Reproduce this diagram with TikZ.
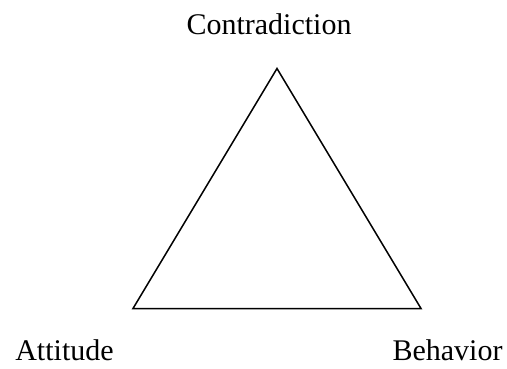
\documentclass[tikz,border=0pt]{standalone}
\usepackage{fontspec}
\setmainfont{Liberation Serif}
\begin{document}
\begin{tikzpicture}[x=1pt,y=-1pt,
  lbl/.style={anchor=base,inner sep=0pt,font=\fontsize{30}{34}\selectfont},
  edge/.style={draw=black,line width=1.5pt,line join=miter}]
\useasboundingbox (0,0) rectangle (507,369);
\coordinate (top) at (277,68.5);
\coordinate (bl) at (133,308.5);
\coordinate (br) at (421,308.5);
\draw[edge] (top) -- (bl) -- (br) -- cycle;
\node[lbl] (c) at (269,35) {Contradiction};
\node[lbl] (a) at (64.5,360) {Attitude};
\node[lbl] (b) at (447.5,360) {Behavior};
\end{tikzpicture}
\end{document}
